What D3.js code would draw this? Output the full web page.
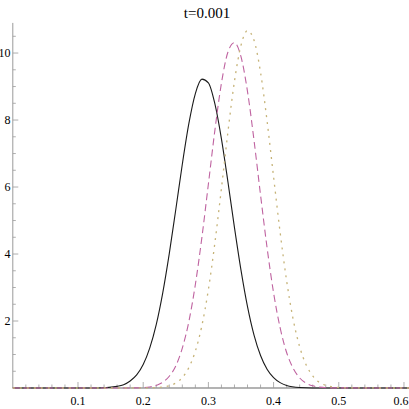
<!DOCTYPE html>
<html><head><meta charset="utf-8">
<script src="https://cdn.jsdelivr.net/npm/d3@7"></script>
<style>
html,body{margin:0;padding:0;background:#fff;}
svg{display:block;}
text{font-family:"Liberation Serif","Times New Roman",serif;fill:#000;}
</style></head>
<body>
<svg id="chart" width="409" height="409"></svg>
<script>
const title = "t=0.001";
const xTicks = [0.1, 0.2, 0.3, 0.4, 0.5, 0.6];
const yTicks = [2, 4, 6, 8, 10];

// solid black curve
const solidX = [0, 0.12, 0.14, 0.16, 0.17, 0.18, 0.19, 0.20, 0.21, 0.22, 0.23, 0.24, 0.25, 0.26, 0.27, 0.28, 0.29, 0.30, 0.31, 0.32, 0.33, 0.34, 0.35, 0.36, 0.37, 0.38, 0.39, 0.40, 0.41, 0.42, 0.44, 0.46, 0.61];
const solidY = [0, 0.001, 0.009, 0.048, 0.10, 0.21, 0.39, 0.70, 1.19, 1.89, 2.84, 4.01, 5.33, 6.68, 7.89, 8.79, 9.22, 9.11, 8.48, 7.44, 6.15, 4.79, 3.52, 2.43, 1.58, 0.97, 0.56, 0.31, 0.16, 0.076, 0.015, 0.002, 0];

// dashed purple curve
const dashX = [0, 0.18, 0.20, 0.21, 0.22, 0.23, 0.24, 0.25, 0.26, 0.27, 0.28, 0.29, 0.30, 0.31, 0.32, 0.33, 0.34, 0.35, 0.36, 0.37, 0.38, 0.39, 0.40, 0.41, 0.42, 0.43, 0.44, 0.45, 0.46, 0.47, 0.49, 0.61];
const dashY = [0, 0.002, 0.013, 0.032, 0.077, 0.17, 0.35, 0.66, 1.19, 1.98, 3.09, 4.49, 6.09, 7.70, 9.10, 10.03, 10.31, 9.89, 8.85, 7.39, 5.76, 4.19, 2.84, 1.80, 1.06, 0.59, 0.30, 0.145, 0.065, 0.027, 0.004, 0];

// dotted olive curve
const dotX = [0, 0.20, 0.22, 0.23, 0.24, 0.25, 0.26, 0.27, 0.28, 0.29, 0.30, 0.31, 0.32, 0.33, 0.34, 0.35, 0.36, 0.37, 0.38, 0.39, 0.40, 0.41, 0.42, 0.43, 0.44, 0.45, 0.46, 0.47, 0.48, 0.49, 0.50, 0.52, 0.61];
const dotY = [0, 0.001, 0.011, 0.028, 0.067, 0.15, 0.31, 0.61, 1.10, 1.86, 2.94, 4.34, 5.96, 7.65, 9.16, 10.23, 10.67, 10.38, 9.42, 7.97, 6.30, 4.65, 3.20, 2.05, 1.23, 0.69, 0.36, 0.17, 0.079, 0.034, 0.013, 0.002, 0];

const svg = d3.select("#chart");
const x = d3.scaleLinear().domain([0, 0.608]).range([12.8, 409.2]);
const y = d3.scaleLinear().domain([0, 10.9]).range([388, 22.9]);

const axisColor = "#9a9a9a";

// x axis line
svg.append("line").attr("x1", x(0)).attr("x2", x(0.608)).attr("y1", y(0)).attr("y2", y(0))
  .attr("stroke", axisColor).attr("stroke-width", 1.3);
// y axis line
svg.append("line").attr("x1", x(0)).attr("x2", x(0)).attr("y1", y(0)).attr("y2", y(10.9))
  .attr("stroke", axisColor).attr("stroke-width", 1);

// x minor ticks
const xMinor = d3.range(1, 31).map(i => i * 0.02).filter(v => Math.abs(v * 10 - Math.round(v * 10)) > 1e-6);
svg.append("g").selectAll("line").data(xMinor).join("line")
  .attr("x1", d => x(d)).attr("x2", d => x(d)).attr("y1", y(0)).attr("y2", y(0) - 3.5)
  .attr("stroke", axisColor).attr("stroke-width", 0.8);
svg.append("g").selectAll("line").data(xTicks).join("line")
  .attr("x1", d => x(d)).attr("x2", d => x(d)).attr("y1", y(0)).attr("y2", y(0) - 6)
  .attr("stroke", axisColor).attr("stroke-width", 0.8);
svg.append("g").selectAll("text").data(xTicks).join("text")
  .attr("x", (d, i) => i === xTicks.length - 1 ? 408.5 : x(d)).attr("y", 405)
  .attr("text-anchor", (d, i) => i === xTicks.length - 1 ? "end" : "middle")
  .attr("font-size", 12).text(d => d3.format(".1f")(d));

// y ticks
const yMinor = d3.range(1, 22).map(i => i * 0.5).filter(v => v % 2 !== 0);
svg.append("g").selectAll("line").data(yMinor).join("line")
  .attr("x1", x(0)).attr("x2", x(0) + 3).attr("y1", d => y(d)).attr("y2", d => y(d))
  .attr("stroke", axisColor).attr("stroke-width", 0.8);
svg.append("g").selectAll("line").data(yTicks).join("line")
  .attr("x1", x(0)).attr("x2", x(0) + 5.5).attr("y1", d => y(d)).attr("y2", d => y(d))
  .attr("stroke", axisColor).attr("stroke-width", 0.8);
svg.append("g").selectAll("text").data(yTicks).join("text")
  .attr("x", 10.5).attr("y", d => y(d)).attr("dy", "0.33em").attr("text-anchor", "end")
  .attr("font-size", 12).text(d => d);

// title
svg.append("text").attr("x", 207).attr("y", 18).attr("text-anchor", "middle")
  .attr("font-size", 15).text(title);

const line = d3.line().x(d => x(d[0])).y(d => y(d[1])).curve(d3.curveMonotoneX);
const series = [
  {xs: solidX, ys: solidY, color: "#1a1a1a", dash: null, w: 1.1},
  {xs: dashX, ys: dashY, color: "#bf63a0", dash: "7,4", w: 1.1},
  {xs: dotX, ys: dotY, color: "#c6b378", dash: "2,5", w: 1.3}
];
svg.append("g").selectAll("path").data(series).join("path")
  .attr("d", s => line(s.xs.map((v, i) => [v, s.ys[i]])))
  .attr("fill", "none").attr("stroke", s => s.color).attr("stroke-width", s => s.w)
  .attr("stroke-dasharray", s => s.dash);
</script>
</body></html>
